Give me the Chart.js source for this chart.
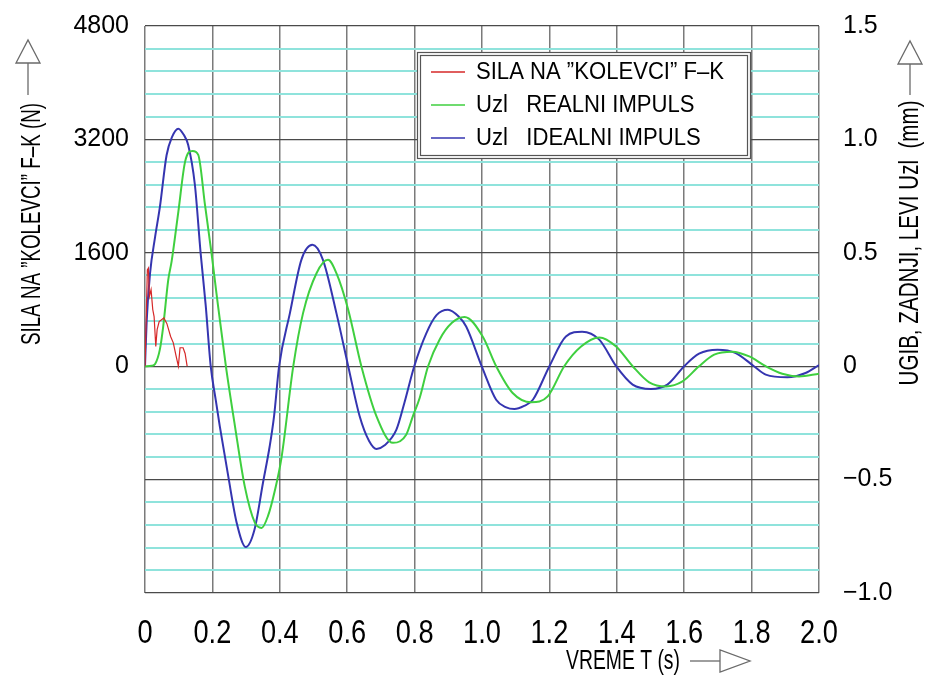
<!DOCTYPE html>
<html><head><meta charset="utf-8">
<script src="https://cdn.jsdelivr.net/npm/chart.js@4/dist/chart.umd.min.js"></script>
<style>html,body{margin:0;padding:0;background:#fff;}</style>
</head><body>
<canvas id="c" width="940" height="681"></canvas>
<script>
// ---- data ----
const timeIdeal = [0,0.005,0.015,0.03,0.044,0.064,0.08,0.099,0.115,0.128,0.148,0.165,0.18,0.195,0.21,0.222,0.247,0.272,0.299,0.325,0.35,0.37,0.383,0.398,0.43,0.464,0.497,0.528,0.568,0.603,0.637,0.665,0.687,0.71,0.746,0.77,0.799,0.835,0.865,0.899,0.93,0.953,0.999,1.042,1.07,1.096,1.125,1.151,1.2,1.249,1.297,1.348,1.398,1.447,1.501,1.55,1.6,1.644,1.699,1.753,1.807,1.842,1.906,1.96,2.0];
const uzlIdeal  = [0,0.20,0.41,0.57,0.70,0.93,1.01,1.047,1.02,0.976,0.80,0.50,0.27,0,-0.15,-0.265,-0.485,-0.69,-0.797,-0.72,-0.515,-0.353,-0.22,0,0.234,0.469,0.535,0.469,0.234,0,-0.221,-0.33,-0.365,-0.35,-0.28,-0.16,0,0.146,0.225,0.249,0.22,0.175,0,-0.148,-0.18,-0.189,-0.175,-0.148,0,0.131,0.152,0.117,0,-0.081,-0.10,-0.081,0,0.055,0.073,0.058,0,-0.037,-0.049,-0.03,0.005];
const timeReal  = [0,0.02,0.03,0.044,0.054,0.069,0.079,0.099,0.119,0.141,0.158,0.178,0.198,0.212,0.24,0.267,0.296,0.326,0.346,0.365,0.385,0.405,0.44,0.469,0.509,0.543,0.568,0.603,0.642,0.687,0.736,0.775,0.795,0.815,0.84,0.874,0.91,0.948,1.002,1.042,1.091,1.146,1.195,1.244,1.294,1.348,1.398,1.447,1.496,1.546,1.595,1.644,1.689,1.743,1.793,1.842,1.891,1.941,2.0];
const uzlReal   = [0,0.002,0.01,0.073,0.175,0.381,0.462,0.682,0.902,0.949,0.932,0.711,0.491,0.322,0,-0.265,-0.53,-0.69,-0.713,-0.66,-0.55,-0.404,0,0.234,0.41,0.469,0.41,0.249,0,-0.221,-0.338,-0.302,-0.22,-0.14,0,0.117,0.19,0.217,0.131,0,-0.118,-0.159,-0.133,0,0.087,0.127,0.087,0,-0.071,-0.089,-0.067,0,0.051,0.064,0.043,0,-0.033,-0.045,-0.033];
const timeForce = [0,0.003,0.007,0.010,0.013,0.018,0.023,0.027,0.032,0.036,0.042,0.056,0.065,0.076,0.084,0.092,0.099,0.104,0.113,0.119,0.125];
const forceFK   = [0,560,1360,1385,985,1080,800,700,280,515,630,680,600,420,330,150,0,260,260,180,0];
const timeTicks  = [0,0.2,0.4,0.6,0.8,1.0,1.2,1.4,1.6,1.8,2.0];
const forceTicks = [0,1600,3200,4800];
const uzlTicks   = [-1.0,-0.5,0,0.5,1.0,1.5];
const seriesNames = ['SILA NA \u201DKOLEVCI\u201D F\u2013K', 'Uzl   REALNI IMPULS', 'Uzl   IDEALNI IMPULS'];
const seriesColors = ['#d62828', '#3fcf3f', '#3535b0'];
const titleLeft = 'SILA NA \u201DKOLEVCI\u201D F\u2013K (N)';
const titleRight = 'UGIB, ZADNJI, LEVI Uzl  (mm)';
const titleBottom = 'VREME T (s)';

const pts = (xs, ys) => xs.map((x, i) => ({x, y: ys[i]}));
const SANS = '"Liberation Sans", Arial, sans-serif';

// condensed text: either fit to a target width, or use a fixed horizontal squeeze
function ctext(c, txt, x, y, rot, size, targetW, sx) {
  c.save();
  c.translate(x, y); c.rotate(rot);
  c.font = size + 'px ' + SANS;
  const w = c.measureText(txt).width;
  c.scale(targetW ? targetW / w : sx, 1);
  c.textAlign = 'center'; c.textBaseline = 'middle';
  c.fillStyle = '#000';
  c.fillText(txt, 0, 0);
  c.restore();
}
function arrow(c, tri, line) {
  c.save();
  c.strokeStyle = '#6a6a6a'; c.lineWidth = 1.3;
  c.beginPath(); c.moveTo(line[0], line[1]); c.lineTo(line[2], line[3]); c.stroke();
  c.beginPath(); c.moveTo(tri[0], tri[1]); c.lineTo(tri[2], tri[3]); c.lineTo(tri[4], tri[5]); c.closePath(); c.stroke();
  c.restore();
}

const deco = {
  id: 'deco',
  afterDraw(chart) {
    const c = chart.ctx;
    // x tick labels (condensed), positioned by the library's x scale
    const xs = chart.scales.x;
    xs.ticks.forEach(t => {
      const lab = t.value === 0 ? '0' : t.value.toFixed(1);
      ctext(c, lab, xs.getPixelForValue(t.value), 634, 0, 34, 0, 0.8);
    });
    ctext(c, titleLeft, 33, 224, -Math.PI/2, 27, 242);
    ctext(c, titleRight, 911, 243, -Math.PI/2, 27, 285);
    ctext(c, titleBottom, 623, 661, 0, 28, 114);
    arrow(c, [16,63, 40,63, 28,40], [28,95,28,63]);
    arrow(c, [898,64, 922,64, 910,41], [910,95,910,64]);
    arrow(c, [720,650, 720,672, 750,661], [690,661,720,661]);
    // legend
    c.save();
    c.fillStyle = '#fff';
    c.fillRect(417, 52, 333, 106);
    c.strokeStyle = '#555'; c.lineWidth = 1.2;
    c.strokeRect(417.5, 52.5, 333, 106);
    c.strokeRect(420.5, 55.5, 327, 100);
    c.font = '23px ' + SANS;
    const sc = 248 / c.measureText(chart.data.datasets[0].label).width;
    const rows = [72, 105, 138];
    chart.data.datasets.forEach((ds, i) => {
      c.strokeStyle = ds.borderColor; c.lineWidth = 1.3;
      c.beginPath(); c.moveTo(431, rows[i]); c.lineTo(465, rows[i]); c.stroke();
      c.save(); c.translate(476, rows[i]); c.scale(sc, 1);
      c.fillStyle = '#000'; c.textBaseline = 'middle'; c.textAlign = 'left';
      c.fillText(ds.label, 0, 1);
      c.restore();
    });
    c.restore();
  }
};

const noPad = s => { s.paddingTop = 0; s.paddingBottom = 0; };

new Chart(document.getElementById('c'), {
  type: 'line',
  data: {
    datasets: [
      {label: seriesNames[0], data: pts(timeForce, forceFK), yAxisID: 'yF', borderColor: seriesColors[0], borderWidth: 1.2, tension: 0},
      {label: seriesNames[1], data: pts(timeReal, uzlReal), yAxisID: 'yU', borderColor: seriesColors[1], borderWidth: 2, cubicInterpolationMode: 'monotone'},
      {label: seriesNames[2], data: pts(timeIdeal, uzlIdeal), yAxisID: 'yU', borderColor: seriesColors[2], borderWidth: 2, cubicInterpolationMode: 'monotone'}
    ]
  },
  options: {
    responsive: false, animation: false, devicePixelRatio: 1,
    layout: {padding: {top: 26, left: 0, right: 0, bottom: 0}},
    elements: {point: {radius: 0}},
    plugins: {legend: {display: false}, tooltip: {enabled: false}},
    scales: {
      x: {
        type: 'linear', min: 0, max: 2,
        afterBuildTicks: s => { s.ticks = timeTicks.map(v => ({value: v})); },
        afterFit: s => { s.height = 88; s.paddingLeft = 0; s.paddingRight = 0; },
        ticks: {display: false},
        grid: {color: '#7a7a7a', lineWidth: 1.5, drawTicks: false},
        border: {display: false}
      },
      yF: {
        type: 'linear', position: 'left', min: -3200, max: 4800,
        afterBuildTicks: s => { s.ticks = forceTicks.map(v => ({value: v})); },
        afterFit: s => { s.width = 145; noPad(s); },
        ticks: {color: '#000', font: {family: SANS, size: 25}, padding: 16, callback: v => String(v)},
        grid: {display: false, drawTicks: false},
        border: {display: false}
      },
      yU: {
        type: 'linear', position: 'right', min: -1, max: 1.5,
        afterBuildTicks: s => {
          const t = [];
          for (let i = 0; i < uzlTicks.length; i++) {
            t.push({value: uzlTicks[i]});
            if (i < uzlTicks.length - 1) for (let k = 1; k < 5; k++) t.push({value: uzlTicks[i] + (uzlTicks[i+1] - uzlTicks[i]) * k / 5});
          }
          s.ticks = t;
        },
        afterFit: s => { s.width = 121; noPad(s); },
        ticks: {color: '#000', font: {family: SANS, size: 25}, padding: 24, autoSkip: false,
          callback: v => {
            if (!uzlTicks.some(m => Math.abs(m - v) < 1e-6)) return '';
            return Math.abs(v) < 1e-9 ? '0' : v.toFixed(1).replace('-', '\u2212');
          }},
        grid: {drawTicks: false,
          color: ctx => uzlTicks.some(m => Math.abs(m - ctx.tick.value) < 1e-6) ? '#4a4a4a' : '#8fe3dc',
          lineWidth: ctx => uzlTicks.some(m => Math.abs(m - ctx.tick.value) < 1e-6) ? 1.3 : 2},
        border: {display: false}
      }
    }
  },
  plugins: [deco]
});
</script>
</body></html>
